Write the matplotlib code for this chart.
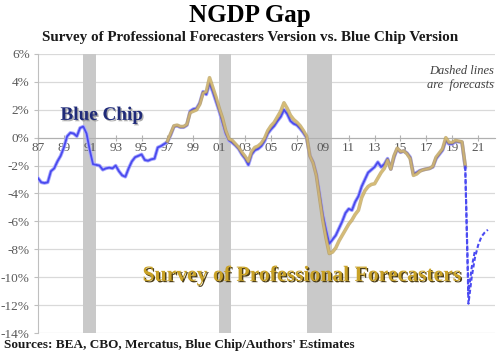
import matplotlib
matplotlib.use("Agg")
import matplotlib.pyplot as plt
import matplotlib.patheffects as pe
import matplotlib.transforms as mtransforms
import numpy as np

# ---- data (quarterly, % gap) ----
bc_start = 1987.0
blue_chip = [
    -2.9, -3.2, -3.25, -3.2,      # 1987
    -2.4, -2.2, -1.7, -1.3,       # 1988
    -0.7, 0.1, 0.35, 0.3,         # 1989
    0.1, 0.7, 0.8, 0.3,           # 1990
    -0.9, -1.9, -1.95, -2.0,      # 1991
    -2.3, -2.2, -2.15, -2.2,      # 1992
    -2.0, -2.4, -2.7, -2.8,       # 1993
    -2.2, -1.7, -1.4, -1.3,       # 1994
    -1.2, -1.6, -1.65, -1.55,     # 1995
    -1.5, -0.7, -0.6, -0.45,      # 1996
    -0.3, 0.2, 0.8, 0.85,         # 1997
    0.75, 0.75, 0.9, 1.9,         # 1998
    2.05, 2.1, 2.5, 3.3,          # 1999
    3.1, 3.9, 3.3, 2.6,           # 2000
    1.9, 1.1, 0.3, -0.2,          # 2001
    -0.35, -0.55, -0.8, -1.2,     # 2002
    -1.5, -1.95, -1.2, -0.9,      # 2003
    -0.8, -0.6, -0.25, 0.3,       # 2004
    0.6, 0.85, 1.2, 1.5,          # 2005
    2.0, 1.7, 1.2, 1.0,           # 2006
    0.9, 0.65, 0.35, 0.0,         # 2007
    -1.3, -1.75, -2.6, -4.0,      # 2008
    -5.5, -6.6, -7.6, -7.3,       # 2009
    -7.0, -6.5, -6.0, -5.4,       # 2010
    -5.1, -5.2, -4.6, -4.2,       # 2011
    -3.5, -3.0, -2.5, -2.3,       # 2012
    -2.1, -1.75, -2.1, -1.9,      # 2013
    -1.5, -2.25, -1.4, -0.8,      # 2014
    -1.05, -0.95, -1.1, -1.4,     # 2015
    -2.6, -2.5, -2.36, -2.3,      # 2016
    -2.24, -2.2, -2.1, -1.5,      # 2017
    -1.2, -0.9, -0.2, -0.45,      # 2018
    -0.45, -0.26, -0.3, -0.33,    # 2019
    -2.1,                         # 2020Q1
]

spf_start = 1997.0
spf = [
    -0.25, 0.3, 0.85, 0.9,        # 1997
    0.8, 0.8, 0.95, 1.8,          # 1998
    1.9, 2.0, 2.4, 3.2,           # 1999
    3.3, 4.3, 3.6, 2.9,           # 2000
    2.1, 1.4, 0.5, -0.1,          # 2001
    -0.2, -0.45, -0.7, -1.05,     # 2002
    -1.35, -1.7, -1.0, -0.7,      # 2003
    -0.6, -0.4, -0.05, 0.5,       # 2004
    0.85, 1.1, 1.5, 1.9,          # 2005
    2.5, 2.1, 1.6, 1.3,           # 2006
    1.1, 0.85, 0.5, 0.1,          # 2007
    -1.3, -1.8, -2.7, -4.3,       # 2008
    -5.9, -7.2, -8.3, -8.2,       # 2009
    -7.9, -7.4, -7.0, -6.6,       # 2010
    -6.2, -5.9, -5.5, -5.2,       # 2011
    -4.3, -3.8, -3.5, -3.35,      # 2012
    -3.3, -2.9, -2.5, -2.2,       # 2013
    -1.6, -2.25, -1.3, -0.75,     # 2014
    -1.0, -0.95, -1.15, -1.5,     # 2015
    -2.7, -2.6, -2.4, -2.3,       # 2016
    -2.25, -2.2, -2.05, -1.4,     # 2017
    -1.1, -0.8, 0.0, -0.35,       # 2018
    -0.35, -0.2, -0.25, -0.3,     # 2019
    -2.0,                         # 2020Q1
]

fc_start = 2020.0
bc_forecast = [-2.1, -11.9, -10.0, -8.6, -7.7, -7.1, -6.8, -6.6]
spf_forecast = [-2.0, -11.2, -9.3, -8.1]

rec_start = [1990.5, 2001.0, 2007.75]
rec_end = [1991.5, 2001.9, 2009.7]

yticks = [6, 4, 2, 0, -2, -4, -6, -8, -10, -12, -14]
xtick_years = list(range(1987, 2022, 2))
xtick_labels = [f"{y % 100:02d}" for y in xtick_years]

# ---- figure ----
serif = ["Liberation Serif", "DejaVu Serif"]
plt.rcParams["font.family"] = serif
fig = plt.figure(figsize=(5.0, 3.54), dpi=100)
ax = fig.add_axes([0.076, 0.0593, 0.914, 0.7882])

def qx(start, n):
    return start + np.arange(n) / 4.0

for s, e in zip(rec_start, rec_end):
    ax.axvspan(s, e, color="#c9c9c9", zorder=2, lw=0)

ax.plot(qx(bc_start, len(blue_chip)), blue_chip, color="#4a4aee", lw=1.3, zorder=4,
        path_effects=[pe.Stroke(linewidth=2.6, foreground="#a8a8ff"), pe.Normal()])
ax.plot(qx(spf_start, len(spf)), spf, color="#d9bd72", lw=1.4, zorder=5, alpha=0.8,
        path_effects=[pe.Stroke(linewidth=2.6, foreground="#b59a52", alpha=0.7), pe.Normal()])
ax.plot(qx(fc_start, len(spf_forecast)), spf_forecast, color="#4a4af2", lw=1.5,
        dashes=(2, 1.2), zorder=5)
ax.plot(qx(fc_start, len(bc_forecast)), bc_forecast, color="#4a4af2", lw=1.5,
        dashes=(2, 1.2), zorder=5)

ax.set_xlim(1987, 2022.3)
ax.set_ylim(-14, 6)
ax.set_yticks(yticks)
ax.set_yticklabels([f"{v}%" for v in yticks])
ax.yaxis.grid(True, color="#d9d9d9", lw=0.9, zorder=1)
ax.set_axisbelow(True)

for side in ["top", "right"]:
    ax.spines[side].set_visible(False)
ax.spines["left"].set_color("#bfbfbf")
ax.spines["bottom"].set_position(("data", 0))
ax.spines["bottom"].set_color("#b0b0b0")
ax.spines["bottom"].set_zorder(3)

ax.set_xticks(xtick_years)
ax.set_xticklabels([])
ax.tick_params(axis="x", direction="inout", length=5, color="#b0b0b0")
ax.tick_params(axis="y", direction="out", length=3, color="#bfbfbf",
               labelsize=9.5, labelcolor="#595959", pad=3)

# x tick labels drawn above the recession shading, below the lines
lab_trans = ax.transData + mtransforms.ScaledTranslation(0, -3 / 72, fig.dpi_scale_trans)
for yr, lab in zip(xtick_years, xtick_labels):
    ax.text(yr, 0, lab, transform=lab_trans, fontsize=9.5, color="#595959",
            ha="center", va="top", zorder=3)

# annotations
ax.text(1991.9, 1.6, "Blue Chip", fontsize=13.8, fontweight="bold", color="#1f2a78",
        ha="center", va="center", zorder=6,
        path_effects=[pe.withSimplePatchShadow(offset=(1, -1), shadow_rgbFace="#777777", alpha=0.6)])
ax.text(2007.35, -9.9, "Survey of Professional Forecasters", fontsize=15.6,
        fontweight="bold", color="#c9a227", ha="center", va="center", zorder=6,
        path_effects=[pe.withSimplePatchShadow(offset=(1, -1), shadow_rgbFace="#3a2a00", alpha=0.9)])
ax.text(2022.2, 4.75, "Dashed lines", fontsize=9, style="italic", color="#404040",
        ha="right", va="center", zorder=6)
ax.text(2022.2, 3.75, "are  forecasts", fontsize=9, style="italic", color="#404040",
        ha="right", va="center", zorder=6)

fig.text(0.5, 0.957, "NGDP Gap", fontsize=18, fontweight="bold", ha="center",
         va="center", color="black")
fig.text(0.5, 0.893, "Survey of Professional Forecasters Version vs. Blue Chip Version",
         fontsize=10.9, fontweight="bold", ha="center", va="center", color="#1a1a1a")
fig.text(0.008, 0.025, "Sources: BEA, CBO, Mercatus, Blue Chip/Authors' Estimates",
         fontsize=9.5, fontweight="bold", ha="left", va="center", color="#1a1a1a")

fig.savefig("out.png", dpi=100)
